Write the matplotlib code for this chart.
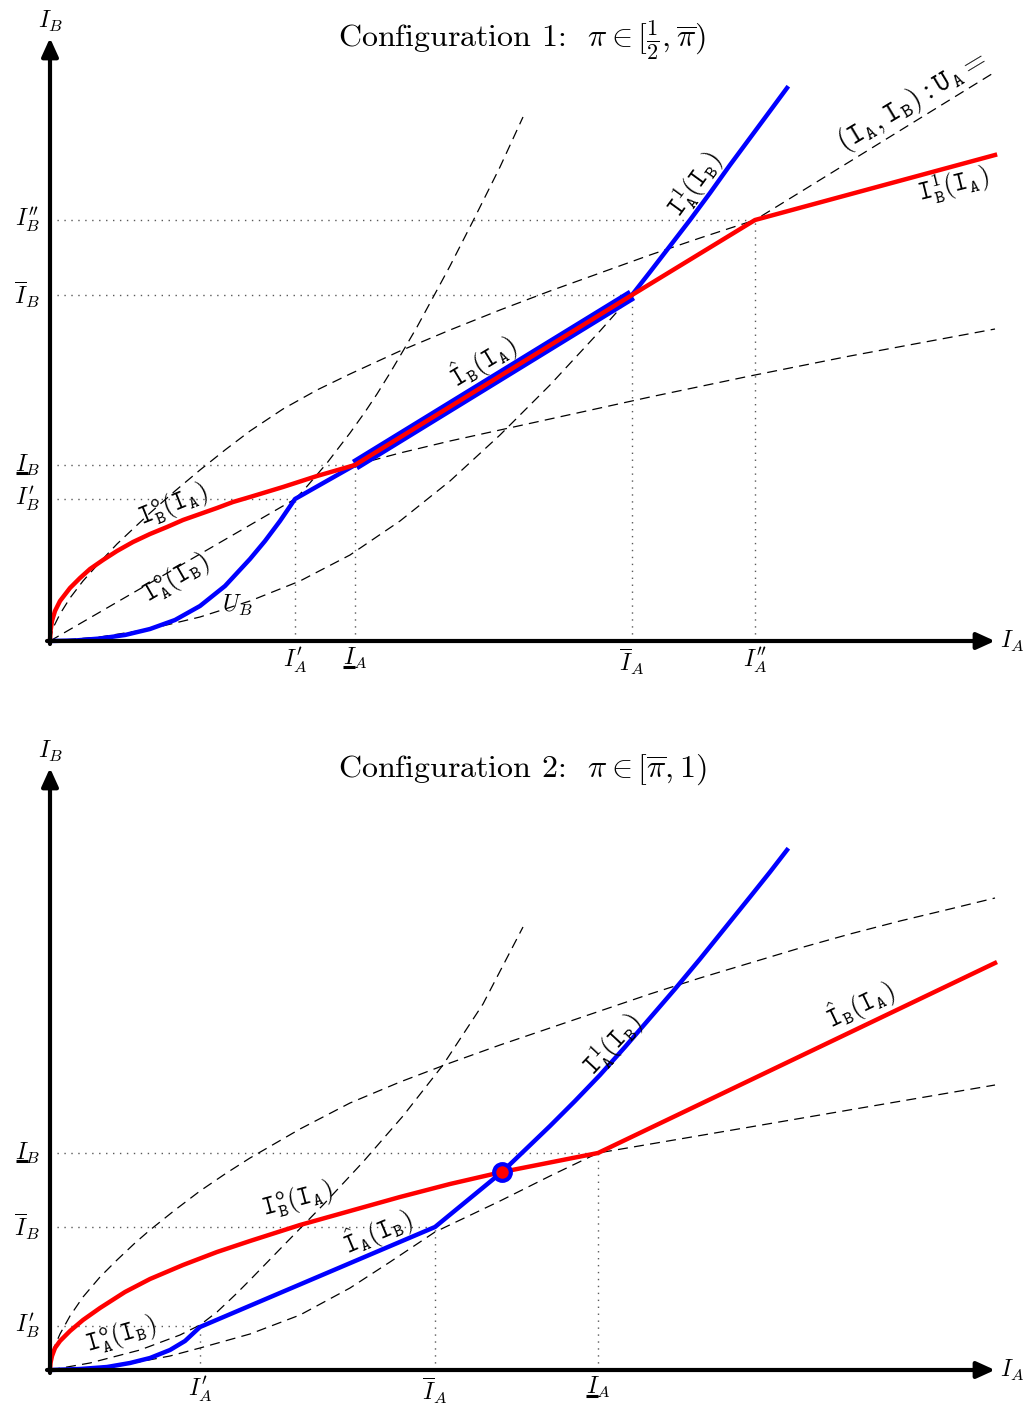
import matplotlib
matplotlib.use('Agg')
import matplotlib.pyplot as plt
from matplotlib.mathtext import MathTextParser

plt.rcParams['mathtext.fontset'] = 'cm'
plt.rcParams['font.family'] = 'DejaVu Serif'

# ---------------- panel 1 data (configuration 1) ----------------
p1_red_x = [0, 0.005, 0.02, 0.05, 0.1, 0.2, 0.3, 0.4, 0.53, 0.67, 0.83, 1.0, 1.17, 1.33, 1.5,
            1.67, 1.83, 2.0, 2.33, 2.67, 3.05, 5.82, 7.05, 9.45]
p1_red_y = [0, 0.1, 0.2, 0.3, 0.4, 0.53, 0.63, 0.72, 0.81, 0.9, 0.99, 1.07, 1.14, 1.21, 1.27,
            1.33, 1.39, 1.44, 1.54, 1.65, 1.76, 3.46, 4.21, 4.86]
p1_blue_low_x = [0, 0.25, 0.5, 0.75, 1.0, 1.25, 1.5, 1.75, 2.0, 2.15, 2.3, 2.45, 3.05]
p1_blue_low_y = [0, 0.005, 0.025, 0.06, 0.12, 0.21, 0.35, 0.55, 0.82, 1.0, 1.2, 1.42, 1.76]
p1_band_x = [3.05, 5.82]
p1_band_y = [1.76, 3.46]
p1_blue_up_x = [5.82, 6.0, 6.2, 6.4, 6.6, 6.8, 7.0, 7.2, 7.37]
p1_blue_up_y = [3.46, 3.69, 3.95, 4.21, 4.48, 4.76, 5.03, 5.3, 5.53]

p1_ua_x = [0, 0.03, 0.1, 0.2, 0.33, 0.5, 0.67, 0.85, 1.0, 1.25, 1.5, 1.75, 2.0, 2.33, 2.67,
           3.0, 3.5, 4.0, 4.5, 5.0, 5.5, 6.0, 6.5, 7.05]
p1_ua_y = [0, 0.13, 0.27, 0.43, 0.6, 0.79, 0.97, 1.14, 1.28, 1.5, 1.71, 1.91, 2.1, 2.32, 2.51,
           2.67, 2.9, 3.11, 3.31, 3.5, 3.68, 3.86, 4.03, 4.21]
p1_ray_x = [0, 2.45, 3.05, 7.05, 9.45]
p1_ray_y = [0, 1.42, 1.76, 4.21, 5.69]
p1_steep_x = [2.45, 2.53, 2.65, 2.77, 2.9, 3.0, 3.15, 3.27, 3.4, 3.53, 3.67, 3.8, 4.0, 4.23, 4.5, 4.73]
p1_steep_y = [1.42, 1.5, 1.64, 1.78, 1.95, 2.08, 2.29, 2.47, 2.68, 2.9, 3.14, 3.38, 3.75, 4.2, 4.74, 5.24]
p1_ub_x = [0, 0.5, 1.0, 1.5, 2.0, 2.5, 3.0, 3.5, 4.0, 4.5, 5.0, 5.5, 5.82]
p1_ub_y = [0, 0.04, 0.12, 0.24, 0.4, 0.6, 0.86, 1.2, 1.6, 2.06, 2.56, 3.1, 3.46]
p1_flat_x = [3.05, 3.5, 4.0, 4.5, 5.0, 6.0, 7.0, 8.0, 9.45]
p1_flat_y = [1.76, 1.88, 2.0, 2.11, 2.22, 2.44, 2.65, 2.85, 3.12]

p1_kink_x = [2.45, 3.05, 5.82, 7.05]
p1_kink_y = [1.42, 1.76, 3.46, 4.21]
p1_xlabels = [r"$I^{\prime}_A$", r"$\underline{I}_A$", r"$\overline{I}_A$", r"$I^{\prime\prime}_A$"]
p1_ylabels = [r"$I^{\prime}_B$", r"$\underline{I}_B$", r"$\overline{I}_B$", r"$I^{\prime\prime}_B$"]

# ---------------- panel 2 data (configuration 2) ----------------
p2_red_x = [0, 0.005, 0.02, 0.05, 0.1, 0.2, 0.33, 0.5, 0.75, 1.0, 1.33, 1.67, 2.0, 2.5, 3.0,
            3.5, 4.0, 4.52, 5.48, 9.45]
p2_red_y = [0, 0.07, 0.14, 0.22, 0.29, 0.39, 0.5, 0.62, 0.78, 0.91, 1.05, 1.18, 1.29, 1.45, 1.59,
            1.73, 1.86, 1.98, 2.17, 4.07]
p2_blue_x = [0, 0.3, 0.57, 0.8, 1.0, 1.2, 1.35, 1.5, 3.85, 4.52, 4.75, 5.0, 5.25, 5.5, 5.75,
             6.0, 6.25, 6.5, 6.75, 7.0, 7.2, 7.37]
p2_blue_y = [0, 0.01, 0.03, 0.07, 0.12, 0.2, 0.29, 0.43, 1.43, 1.98, 2.2, 2.44, 2.69, 2.95, 3.23,
             3.52, 3.81, 4.11, 4.42, 4.73, 4.98, 5.2]
p2_eq_x = [4.52]
p2_eq_y = [1.98]

p2_ua_x = [0, 0.03, 0.1, 0.2, 0.33, 0.5, 0.67, 0.85, 1.0, 1.25, 1.5, 1.75, 2.0, 2.5, 3.0, 3.5,
           4.0, 4.5, 5.0, 5.5, 6.0, 6.5, 7.0, 7.5, 8.0, 8.5, 9.0, 9.45]
p2_ua_y = [0, 0.2, 0.36, 0.54, 0.73, 0.93, 1.1, 1.27, 1.4, 1.6, 1.79, 1.96, 2.12, 2.41, 2.67, 2.88,
           3.07, 3.25, 3.42, 3.59, 3.76, 3.92, 4.07, 4.22, 4.36, 4.49, 4.61, 4.72]
p2_steep_x = [0, 0.4, 0.9, 1.3, 1.5, 1.67, 1.85, 2.0, 2.33, 2.73, 3.13, 3.53, 3.93, 4.33, 4.73]
p2_steep_y = [0, 0.07, 0.2, 0.35, 0.45, 0.58, 0.75, 0.9, 1.24, 1.65, 2.08, 2.54, 3.05, 3.66, 4.43]
p2_low_x = [0, 0.4, 0.83, 1.2, 1.5, 2.0, 2.5, 3.0, 3.4, 3.85, 4.5, 5.0, 5.48, 7.0, 9.45]
p2_low_y = [0, 0.02, 0.07, 0.14, 0.22, 0.36, 0.55, 0.82, 1.08, 1.38, 1.69, 1.94, 2.17, 2.43, 2.85]

p2_kink_x = [1.5, 3.85, 5.48]
p2_kink_y = [0.44, 1.43, 2.17]
p2_xlabels = [r"$I^{\prime}_A$", r"$\overline{I}_A$", r"$\underline{I}_A$"]
p2_ylabels = [r"$I^{\prime}_B$", r"$\overline{I}_B$", r"$\underline{I}_B$"]


def tt(s):
    return r'\mathtt{%s}' % s


def lab(base, sup, sub, arg, hat=False):
    b = tt(base)
    if hat:
        b = r'\hat{%s}' % b
    s = b
    if sup:
        s += '^{%s}' % tt(sup)
    s += '_{%s}' % tt(sub)
    s += r'(%s_{%s})' % (tt('I'), tt(arg))
    return '$' + s + '$'


# mathtext may not know \underline; then draw the bar by hand
try:
    MathTextParser('path').parse(r'$\underline{I}_A$')
    HAS_UL = True
except Exception:
    HAS_UL = False

fig = plt.figure(figsize=(10.28, 14.22), dpi=100)
ax1 = fig.add_axes([0, 722 / 1422, 1, 700 / 1422])
ax2 = fig.add_axes([0, 0, 1, 722 / 1422])
ax1.set_xlim(-0.5, 9.78)
ax1.set_ylim(-0.59, 6.41)
ax2.set_xlim(-0.5, 9.78)
ax2.set_ylim(-0.52, 6.70)

dash = dict(color='black', lw=0.9, ls=(0, (8, 5)), zorder=1)
dot = dict(color='0.35', lw=1.0, ls=(0, (1, 4)), zorder=1)
RED = '#ff0000'
BLUE = '#0000ff'
TICK_FS = 17
LBL_FS = 19


def put_text(ax, x, y, s, **kw):
    if HAS_UL or r'\underline' not in s:
        return ax.text(x, y, s, **kw)
    t = ax.text(x, y, s.replace(r'\underline{I}', 'I'), **kw)
    fig.canvas.draw()
    bb = t.get_window_extent()
    inv = ax.transData.inverted()
    x0, y0 = inv.transform((bb.x0 + 0.5, bb.y0 + 4.5))
    x1, _ = inv.transform((bb.x0 + 0.5 * bb.width, bb.y0))
    ax.plot([x0, x1], [y0, y0], color='black', lw=2.2, solid_capstyle='butt')
    return t


def frame(ax, xmax, ymax, title):
    kw = dict(arrowstyle='-|>,head_length=1.1,head_width=0.5', lw=3, color='black',
              shrinkA=0, shrinkB=0)
    ax.annotate('', xy=(xmax, 0), xytext=(-0.03, 0), arrowprops=kw, zorder=6)
    ax.annotate('', xy=(0, ymax), xytext=(0, -0.03), arrowprops=kw, zorder=6)
    ax.text(0, ymax + 0.17, r'$I_B$', fontsize=TICK_FS, ha='center', va='center')
    ax.text(xmax + 0.05, 0, r'$I_A$', fontsize=TICK_FS, ha='left', va='center')
    ax.text(4.72, ymax - 0.02, title, fontsize=23, ha='center', va='center',
            fontfamily='cmr10')
    ax.axis('off')


def guides(ax, kx, ky, xl, yl):
    for x, y, sx, sy in zip(kx, ky, xl, yl):
        ax.plot([x, x], [0, y], **dot)
        ax.plot([0, x], [y, y], **dot)
        put_text(ax, x, -0.05, sx, fontsize=TICK_FS, ha='center', va='top')
        put_text(ax, -0.1, y, sy, fontsize=TICK_FS, ha='right', va='center')


def rtext(ax, x, y, s, ang, fs=LBL_FS):
    ax.text(x, y, s, fontsize=fs, rotation=ang, rotation_mode='anchor',
            ha='center', va='center', zorder=7)


# ---------------- panel 1 ----------------
frame(ax1, 9.45, 6.03,
      r'Configuration 1:  $\pi\in[\frac{\mathtt{1}}{\mathtt{2}},\overline{\pi})$')
guides(ax1, p1_kink_x, p1_kink_y, p1_xlabels, p1_ylabels)
ax1.plot(p1_ua_x, p1_ua_y, **dash)
ax1.plot(p1_ray_x, p1_ray_y, **dash)
ax1.plot(p1_steep_x, p1_steep_y, **dash)
ax1.plot(p1_ub_x, p1_ub_y, **dash)
ax1.plot(p1_flat_x, p1_flat_y, **dash)
ax1.plot(p1_band_x, p1_band_y, color=BLUE, lw=8.5, solid_capstyle='butt', zorder=3)
ax1.plot(p1_blue_low_x, p1_blue_low_y, color=BLUE, lw=3.2, zorder=3)
ax1.plot(p1_blue_up_x, p1_blue_up_y, color=BLUE, lw=3.2, zorder=3)
ax1.plot(p1_red_x, p1_red_y, color=RED, lw=3.2, zorder=4, solid_joinstyle='round')

rtext(ax1, 6.45, 4.56, lab('I', '1', 'A', 'B'), 54)
rtext(ax1, 8.62, 5.4, r'$(%s_{%s},%s_{%s}):%s_{%s}=$' % (tt('I'), tt('A'), tt('I'), tt('B'),
                                                        tt('U'), tt('A')), 31, fs=21)
rtext(ax1, 9.03, 4.56, lab('I', '1', 'B', 'A'), 14)
rtext(ax1, 4.33, 2.79, lab('I', None, 'B', 'A', hat=True), 31)
rtext(ax1, 1.23, 1.36, lab('I', 'o', 'B', 'A'), 22)
rtext(ax1, 1.26, 0.63, lab('I', 'o', 'A', 'B'), 30)
ax1.text(1.87, 0.36, r'$U_B$', fontsize=TICK_FS, ha='center', va='center')

# ---------------- panel 2 ----------------
frame(ax2, 9.45, 6.02,
      r'Configuration 2:  $\pi\in[\overline{\pi},\mathtt{1})$')
guides(ax2, p2_kink_x, p2_kink_y, p2_xlabels, p2_ylabels)
ax2.plot(p2_ua_x, p2_ua_y, **dash)
ax2.plot(p2_steep_x, p2_steep_y, **dash)
ax2.plot(p2_low_x, p2_low_y, **dash)
ax2.plot(p2_red_x, p2_red_y, color=RED, lw=3.2, zorder=4, solid_joinstyle='round')
ax2.plot(p2_blue_x, p2_blue_y, color=BLUE, lw=3.2, zorder=3)
ax2.plot(p2_eq_x, p2_eq_y, 'o', ms=12, mfc=RED, mec=BLUE, mew=3, zorder=5)

rtext(ax2, 5.62, 3.25, lab('I', '1', 'A', 'B'), 47)
rtext(ax2, 8.1, 3.65, lab('I', None, 'B', 'A', hat=True), 25.6)
rtext(ax2, 2.47, 1.7, lab('I', 'o', 'B', 'A'), 15)
rtext(ax2, 3.28, 1.38, lab('I', None, 'A', 'B', hat=True), 23)
rtext(ax2, 0.71, 0.35, lab('I', 'o', 'A', 'B'), 16)

fig.savefig('out.png', dpi=100)
